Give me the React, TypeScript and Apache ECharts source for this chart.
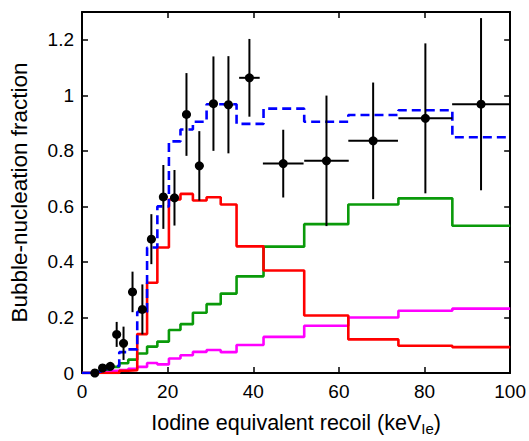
import React, { useEffect, useRef } from "react";
import * as echarts from "echarts";

// Histogram bin edges (keV_Ie)
const binEdges = [0, 2.5, 4.5, 6.6, 8.7, 10.8, 12.9, 15.2, 17.6, 20.3, 23.0, 25.9, 29.1, 32.4, 36.1, 42.4, 51.9, 62.2, 73.9, 86.5, 100];

// Step-curve values per bin
const redValues = [0, 0, 0, 0, 0.008, 0.01, 0.14, 0.325, 0.452, 0.625, 0.645, 0.621, 0.633, 0.607, 0.456, 0.369, 0.207, 0.121, 0.098, 0.093];
const greenValues = [0, 0.004, 0.012, 0.022, 0.035, 0.048, 0.07, 0.095, 0.113, 0.155, 0.176, 0.217, 0.248, 0.286, 0.348, 0.455, 0.536, 0.607, 0.629, 0.53];
const magentaValues = [0, 0.002, 0.005, 0.008, 0.011, 0.015, 0.022, 0.036, 0.031, 0.052, 0.064, 0.076, 0.083, 0.075, 0.101, 0.13, 0.17, 0.2, 0.224, 0.232];
const blueValues = [0, 0.005, 0.015, 0.025, 0.075, 0.085, 0.22, 0.452, 0.6, 0.834, 0.877, 0.905, 0.968, 0.968, 0.897, 0.952, 0.905, 0.929, 0.946, 0.849];

// Measured data points with error bars
const pointX = [3.0, 4.8, 6.6, 8.1, 9.7, 11.8, 14.1, 16.2, 19.0, 21.6, 24.4, 27.4, 30.7, 34.2, 39.1, 47.0, 57.1, 68.0, 80.2, 93.2];
const pointY = [0.0, 0.018, 0.024, 0.139, 0.107, 0.292, 0.229, 0.482, 0.634, 0.631, 0.931, 0.746, 0.97, 0.966, 1.063, 0.754, 0.764, 0.836, 0.917, 0.968];
const pointXErr = [1.0, 0.9, 0.9, 0.9, 0.9, 1.0, 1.0, 1.0, 1.0, 1.0, 1.0, 1.0, 1.0, 1.1, 2.4, 4.75, 5.2, 5.8, 6.3, 6.75];
const pointYErr = [0.005, 0.008, 0.01, 0.045, 0.06, 0.073, 0.09, 0.09, 0.115, 0.1, 0.149, 0.125, 0.17, 0.175, 0.14, 0.122, 0.235, 0.21, 0.27, 0.31];

const xTicks = [0, 20, 40, 60, 80, 100];
const yTickStep = 0.2;

const FONT = "Liberation Sans";

function stairs(values: number[]) {
  const d: number[][] = values.map((v, i) => [binEdges[i], v]);
  d.push([binEdges[binEdges.length - 1], values[values.length - 1]]);
  return d;
}

export default function App() {
  const ref = useRef<HTMLDivElement>(null);
  useEffect(() => {
    const chart = echarts.init(ref.current!, null, { renderer: "svg" });
    const axisLine = { show: true, onZero: false, lineStyle: { color: "#000", width: 2 } };
    const axisTick = { show: true, inside: true, length: 6, lineStyle: { color: "#000", width: 1.5 } };
    const xBase = {
      type: "value",
      min: xTicks[0],
      max: xTicks[xTicks.length - 1],
      interval: xTicks[1] - xTicks[0],
      axisLine,
      axisTick,
      splitLine: { show: false },
    };
    const yBase = {
      type: "value",
      min: 0,
      max: 1.3,
      interval: yTickStep,
      axisLine,
      axisTick,
      splitLine: { show: false },
    };
    const stepSeries = (name: string, values: number[], color: string, dashed = false) => ({
      type: "line",
      name,
      step: "end",
      data: stairs(values),
      symbol: "none",
      lineStyle: { color, width: 2.6, type: dashed ? [9, 5] : "solid" },
      z: 2,
    });
    const points = pointX.map((x, i) => [x, pointY[i], pointXErr[i], pointYErr[i]]);
    chart.setOption({
      animation: false,
      backgroundColor: "#fff",
      grid: { left: 82, right: 11, top: 12, bottom: 66 },
      xAxis: [
        {
          ...xBase,
          position: "bottom",
          axisLabel: { color: "#000", fontSize: 19, fontFamily: FONT, margin: 9 },
          name: "Iodine equivalent recoil (keV{sub|Ie})",
          nameLocation: "middle",
          nameGap: 36,
          nameTextStyle: {
            color: "#000",
            fontSize: 21.5,
            fontFamily: FONT,
            rich: {
              sub: { fontSize: 15, fontFamily: FONT, color: "#000", padding: [12, 0, 0, 0] },
            },
          },
        },
        { ...xBase, position: "top", axisLabel: { show: false } },
      ],
      yAxis: [
        {
          ...yBase,
          position: "left",
          axisLabel: {
            color: "#000",
            fontSize: 19,
            fontFamily: FONT,
            margin: 8,
            showMaxLabel: false,
            formatter: (v: number) => (v > 1.25 ? "" : String(parseFloat(v.toFixed(1)))),
          },
          name: "Bubble-nucleation fraction",
          nameLocation: "middle",
          nameGap: 51,
          nameTextStyle: { color: "#000", fontSize: 22.5, fontFamily: FONT },
        },
        { ...yBase, position: "right", axisLabel: { show: false } },
      ],
      series: [
        stepSeries("magenta", magentaValues, "#ff00ff"),
        stepSeries("green", greenValues, "#0a9a0a"),
        stepSeries("red", redValues, "#ff0000"),
        stepSeries("blue", blueValues, "#0000ff", true),
        {
          type: "custom",
          name: "data",
          data: points,
          z: 5,
          renderItem: (params: any, api: any) => {
            const x = api.value(0);
            const y = api.value(1);
            const xe = api.value(2);
            const ye = api.value(3);
            const c = api.coord([x, y]);
            const l = api.coord([x - xe, y]);
            const r = api.coord([x + xe, y]);
            const t = api.coord([x, y + ye]);
            const b = api.coord([x, y - ye]);
            const st = { stroke: "#000", lineWidth: 2 };
            return {
              type: "group",
              children: [
                { type: "line", shape: { x1: l[0], y1: c[1], x2: r[0], y2: c[1] }, style: st },
                { type: "line", shape: { x1: c[0], y1: t[1], x2: c[0], y2: b[1] }, style: st },
                { type: "circle", shape: { cx: c[0], cy: c[1], r: 4.5 }, style: { fill: "#000" } },
              ],
            };
          },
        },
      ],
    });
    return () => chart.dispose();
  }, []);
  return (
    <div
      ref={ref}
      style={{ position: "fixed", left: 0, top: 0, width: 529, height: 441, background: "#fff" }}
    />
  );
}
